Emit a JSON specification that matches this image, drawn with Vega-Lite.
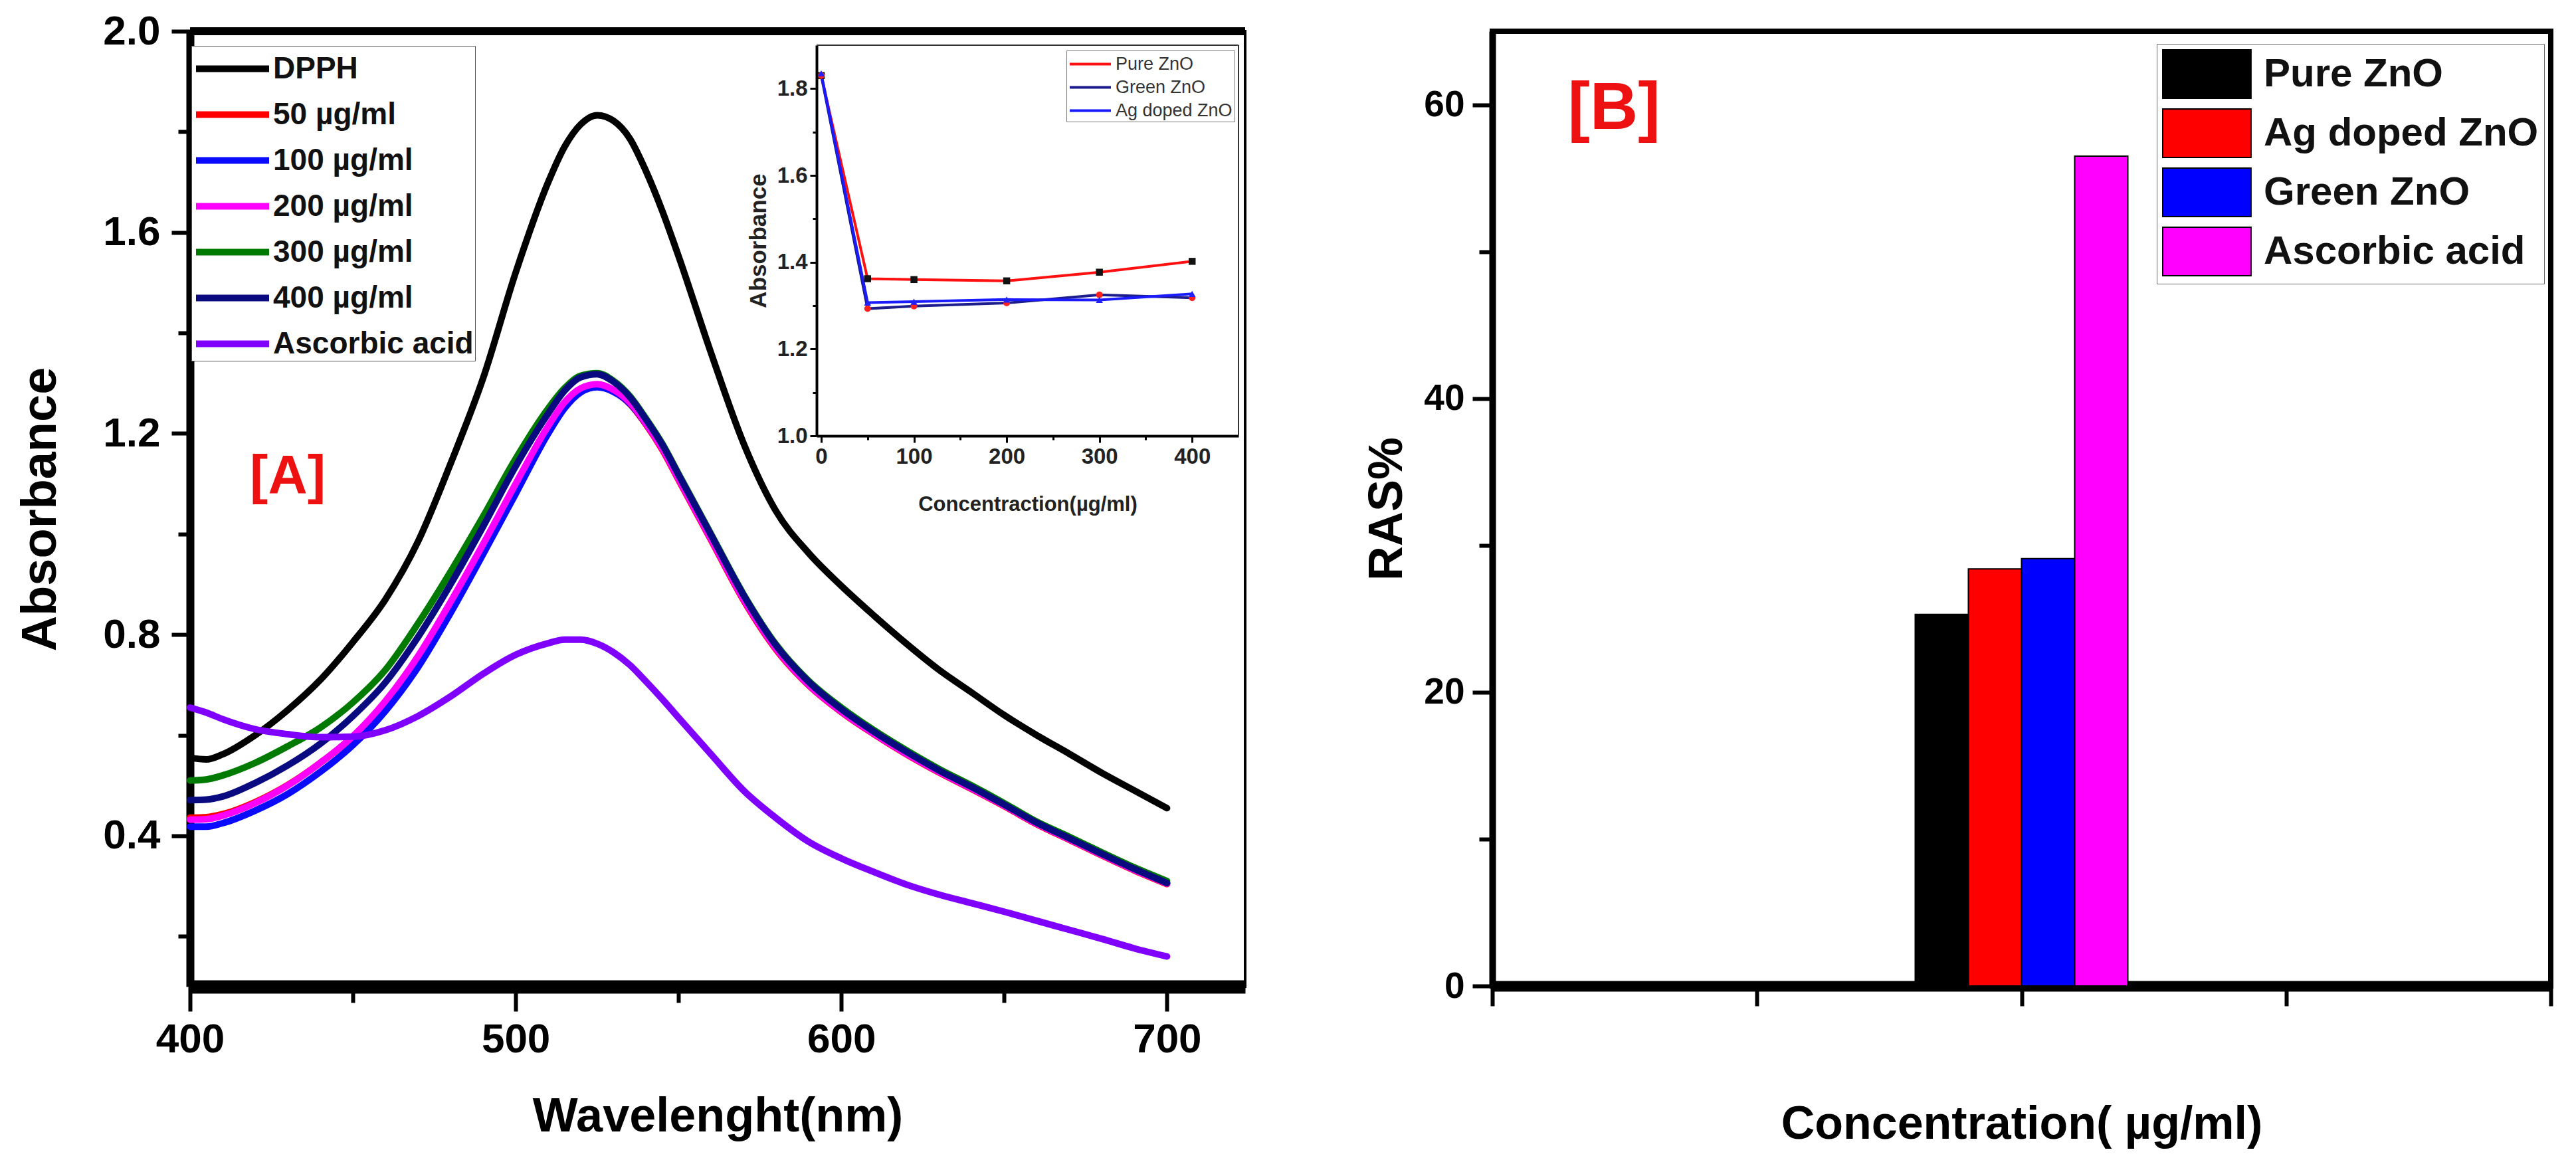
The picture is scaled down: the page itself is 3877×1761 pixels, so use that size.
{
  "$schema": "https://vega.github.io/schema/vega-lite/v6.json",
  "background": "white",
  "padding": {"left": 22, "top": 14, "right": 10, "bottom": 10},
  "spacing": 165,
  "config": {
    "font": "Liberation Sans",
    "axis": {
      "labelFont": "Liberation Sans", "labelFontWeight": "bold", "labelColor": "black",
      "titleFont": "Liberation Sans", "titleFontWeight": "bold", "titleColor": "black",
      "domainColor": "black", "tickColor": "black", "grid": false,
      "labelOverlap": false, "labelFlush": false, "labelBound": false
    },
    "legend": {"labelFont": "Liberation Sans", "labelLimit": 0, "title": null}
  },
  "datasets": {
    "spectra": [
      {"series": "DPPH", "wavelength": 400, "absorbance": 0.555}, {"series": "DPPH", "wavelength": 405, "absorbance": 0.552}, {"series": "DPPH", "wavelength": 410, "absorbance": 0.562}, {"series": "DPPH", "wavelength": 420, "absorbance": 0.600}, {"series": "DPPH", "wavelength": 430, "absorbance": 0.650}, {"series": "DPPH", "wavelength": 440, "absorbance": 0.710}, {"series": "DPPH", "wavelength": 450, "absorbance": 0.785}, {"series": "DPPH", "wavelength": 460, "absorbance": 0.870}, {"series": "DPPH", "wavelength": 470, "absorbance": 0.985}, {"series": "DPPH", "wavelength": 480, "absorbance": 1.140}, {"series": "DPPH", "wavelength": 490, "absorbance": 1.310}, {"series": "DPPH", "wavelength": 500, "absorbance": 1.520}, {"series": "DPPH", "wavelength": 510, "absorbance": 1.700}, {"series": "DPPH", "wavelength": 515, "absorbance": 1.770}, {"series": "DPPH", "wavelength": 520, "absorbance": 1.815}, {"series": "DPPH", "wavelength": 525, "absorbance": 1.833}, {"series": "DPPH", "wavelength": 530, "absorbance": 1.822}, {"series": "DPPH", "wavelength": 535, "absorbance": 1.787}, {"series": "DPPH", "wavelength": 540, "absorbance": 1.722}, {"series": "DPPH", "wavelength": 545, "absorbance": 1.643}, {"series": "DPPH", "wavelength": 550, "absorbance": 1.553}, {"series": "DPPH", "wavelength": 560, "absorbance": 1.360}, {"series": "DPPH", "wavelength": 570, "absorbance": 1.180}, {"series": "DPPH", "wavelength": 580, "absorbance": 1.045}, {"series": "DPPH", "wavelength": 590, "absorbance": 0.962}, {"series": "DPPH", "wavelength": 600, "absorbance": 0.897}, {"series": "DPPH", "wavelength": 610, "absorbance": 0.838}, {"series": "DPPH", "wavelength": 620, "absorbance": 0.782}, {"series": "DPPH", "wavelength": 630, "absorbance": 0.730}, {"series": "DPPH", "wavelength": 640, "absorbance": 0.685}, {"series": "DPPH", "wavelength": 650, "absorbance": 0.640}, {"series": "DPPH", "wavelength": 660, "absorbance": 0.600}, {"series": "DPPH", "wavelength": 670, "absorbance": 0.563}, {"series": "DPPH", "wavelength": 680, "absorbance": 0.525}, {"series": "DPPH", "wavelength": 690, "absorbance": 0.490}, {"series": "DPPH", "wavelength": 700, "absorbance": 0.455},
      {"series": "50 µg/ml", "wavelength": 400, "absorbance": 0.436}, {"series": "50 µg/ml", "wavelength": 405, "absorbance": 0.437}, {"series": "50 µg/ml", "wavelength": 410, "absorbance": 0.443}, {"series": "50 µg/ml", "wavelength": 420, "absorbance": 0.467}, {"series": "50 µg/ml", "wavelength": 430, "absorbance": 0.501}, {"series": "50 µg/ml", "wavelength": 440, "absorbance": 0.545}, {"series": "50 µg/ml", "wavelength": 450, "absorbance": 0.597}, {"series": "50 µg/ml", "wavelength": 460, "absorbance": 0.666}, {"series": "50 µg/ml", "wavelength": 470, "absorbance": 0.754}, {"series": "50 µg/ml", "wavelength": 480, "absorbance": 0.861}, {"series": "50 µg/ml", "wavelength": 490, "absorbance": 0.976}, {"series": "50 µg/ml", "wavelength": 500, "absorbance": 1.096}, {"series": "50 µg/ml", "wavelength": 510, "absorbance": 1.211}, {"series": "50 µg/ml", "wavelength": 515, "absorbance": 1.258}, {"series": "50 µg/ml", "wavelength": 520, "absorbance": 1.286}, {"series": "50 µg/ml", "wavelength": 525, "absorbance": 1.294}, {"series": "50 µg/ml", "wavelength": 530, "absorbance": 1.284}, {"series": "50 µg/ml", "wavelength": 535, "absorbance": 1.259}, {"series": "50 µg/ml", "wavelength": 540, "absorbance": 1.218}, {"series": "50 µg/ml", "wavelength": 545, "absorbance": 1.168}, {"series": "50 µg/ml", "wavelength": 550, "absorbance": 1.108}, {"series": "50 µg/ml", "wavelength": 560, "absorbance": 0.988}, {"series": "50 µg/ml", "wavelength": 570, "absorbance": 0.868}, {"series": "50 µg/ml", "wavelength": 580, "absorbance": 0.770}, {"series": "50 µg/ml", "wavelength": 590, "absorbance": 0.699}, {"series": "50 µg/ml", "wavelength": 600, "absorbance": 0.646}, {"series": "50 µg/ml", "wavelength": 610, "absorbance": 0.602}, {"series": "50 µg/ml", "wavelength": 620, "absorbance": 0.562}, {"series": "50 µg/ml", "wavelength": 630, "absorbance": 0.526}, {"series": "50 µg/ml", "wavelength": 640, "absorbance": 0.493}, {"series": "50 µg/ml", "wavelength": 650, "absorbance": 0.459}, {"series": "50 µg/ml", "wavelength": 660, "absorbance": 0.423}, {"series": "50 µg/ml", "wavelength": 670, "absorbance": 0.392}, {"series": "50 µg/ml", "wavelength": 680, "absorbance": 0.361}, {"series": "50 µg/ml", "wavelength": 690, "absorbance": 0.331}, {"series": "50 µg/ml", "wavelength": 700, "absorbance": 0.304},
      {"series": "100 µg/ml", "wavelength": 400, "absorbance": 0.418}, {"series": "100 µg/ml", "wavelength": 405, "absorbance": 0.418}, {"series": "100 µg/ml", "wavelength": 410, "absorbance": 0.425}, {"series": "100 µg/ml", "wavelength": 420, "absorbance": 0.450}, {"series": "100 µg/ml", "wavelength": 430, "absorbance": 0.483}, {"series": "100 µg/ml", "wavelength": 440, "absorbance": 0.527}, {"series": "100 µg/ml", "wavelength": 450, "absorbance": 0.580}, {"series": "100 µg/ml", "wavelength": 460, "absorbance": 0.648}, {"series": "100 µg/ml", "wavelength": 470, "absorbance": 0.735}, {"series": "100 µg/ml", "wavelength": 480, "absorbance": 0.843}, {"series": "100 µg/ml", "wavelength": 490, "absorbance": 0.960}, {"series": "100 µg/ml", "wavelength": 500, "absorbance": 1.080}, {"series": "100 µg/ml", "wavelength": 510, "absorbance": 1.200}, {"series": "100 µg/ml", "wavelength": 515, "absorbance": 1.250}, {"series": "100 µg/ml", "wavelength": 520, "absorbance": 1.282}, {"series": "100 µg/ml", "wavelength": 525, "absorbance": 1.292}, {"series": "100 µg/ml", "wavelength": 530, "absorbance": 1.283}, {"series": "100 µg/ml", "wavelength": 535, "absorbance": 1.260}, {"series": "100 µg/ml", "wavelength": 540, "absorbance": 1.220}, {"series": "100 µg/ml", "wavelength": 545, "absorbance": 1.172}, {"series": "100 µg/ml", "wavelength": 550, "absorbance": 1.112}, {"series": "100 µg/ml", "wavelength": 560, "absorbance": 0.992}, {"series": "100 µg/ml", "wavelength": 570, "absorbance": 0.872}, {"series": "100 µg/ml", "wavelength": 580, "absorbance": 0.774}, {"series": "100 µg/ml", "wavelength": 590, "absorbance": 0.702}, {"series": "100 µg/ml", "wavelength": 600, "absorbance": 0.649}, {"series": "100 µg/ml", "wavelength": 610, "absorbance": 0.604}, {"series": "100 µg/ml", "wavelength": 620, "absorbance": 0.564}, {"series": "100 µg/ml", "wavelength": 630, "absorbance": 0.528}, {"series": "100 µg/ml", "wavelength": 640, "absorbance": 0.495}, {"series": "100 µg/ml", "wavelength": 650, "absorbance": 0.461}, {"series": "100 µg/ml", "wavelength": 660, "absorbance": 0.425}, {"series": "100 µg/ml", "wavelength": 670, "absorbance": 0.394}, {"series": "100 µg/ml", "wavelength": 680, "absorbance": 0.363}, {"series": "100 µg/ml", "wavelength": 690, "absorbance": 0.333}, {"series": "100 µg/ml", "wavelength": 700, "absorbance": 0.306},
      {"series": "200 µg/ml", "wavelength": 400, "absorbance": 0.432}, {"series": "200 µg/ml", "wavelength": 405, "absorbance": 0.433}, {"series": "200 µg/ml", "wavelength": 410, "absorbance": 0.440}, {"series": "200 µg/ml", "wavelength": 420, "absorbance": 0.465}, {"series": "200 µg/ml", "wavelength": 430, "absorbance": 0.500}, {"series": "200 µg/ml", "wavelength": 440, "absorbance": 0.545}, {"series": "200 µg/ml", "wavelength": 450, "absorbance": 0.598}, {"series": "200 µg/ml", "wavelength": 460, "absorbance": 0.668}, {"series": "200 µg/ml", "wavelength": 470, "absorbance": 0.757}, {"series": "200 µg/ml", "wavelength": 480, "absorbance": 0.865}, {"series": "200 µg/ml", "wavelength": 490, "absorbance": 0.980}, {"series": "200 µg/ml", "wavelength": 500, "absorbance": 1.100}, {"series": "200 µg/ml", "wavelength": 510, "absorbance": 1.215}, {"series": "200 µg/ml", "wavelength": 515, "absorbance": 1.262}, {"series": "200 µg/ml", "wavelength": 520, "absorbance": 1.290}, {"series": "200 µg/ml", "wavelength": 525, "absorbance": 1.298}, {"series": "200 µg/ml", "wavelength": 530, "absorbance": 1.287}, {"series": "200 µg/ml", "wavelength": 535, "absorbance": 1.262}, {"series": "200 µg/ml", "wavelength": 540, "absorbance": 1.220}, {"series": "200 µg/ml", "wavelength": 545, "absorbance": 1.170}, {"series": "200 µg/ml", "wavelength": 550, "absorbance": 1.110}, {"series": "200 µg/ml", "wavelength": 560, "absorbance": 0.990}, {"series": "200 µg/ml", "wavelength": 570, "absorbance": 0.870}, {"series": "200 µg/ml", "wavelength": 580, "absorbance": 0.772}, {"series": "200 µg/ml", "wavelength": 590, "absorbance": 0.700}, {"series": "200 µg/ml", "wavelength": 600, "absorbance": 0.647}, {"series": "200 µg/ml", "wavelength": 610, "absorbance": 0.603}, {"series": "200 µg/ml", "wavelength": 620, "absorbance": 0.563}, {"series": "200 µg/ml", "wavelength": 630, "absorbance": 0.527}, {"series": "200 µg/ml", "wavelength": 640, "absorbance": 0.494}, {"series": "200 µg/ml", "wavelength": 650, "absorbance": 0.460}, {"series": "200 µg/ml", "wavelength": 660, "absorbance": 0.424}, {"series": "200 µg/ml", "wavelength": 670, "absorbance": 0.393}, {"series": "200 µg/ml", "wavelength": 680, "absorbance": 0.362}, {"series": "200 µg/ml", "wavelength": 690, "absorbance": 0.332}, {"series": "200 µg/ml", "wavelength": 700, "absorbance": 0.305},
      {"series": "300 µg/ml", "wavelength": 400, "absorbance": 0.510}, {"series": "300 µg/ml", "wavelength": 405, "absorbance": 0.512}, {"series": "300 µg/ml", "wavelength": 410, "absorbance": 0.520}, {"series": "300 µg/ml", "wavelength": 420, "absorbance": 0.545}, {"series": "300 µg/ml", "wavelength": 430, "absorbance": 0.578}, {"series": "300 µg/ml", "wavelength": 440, "absorbance": 0.615}, {"series": "300 µg/ml", "wavelength": 450, "absorbance": 0.665}, {"series": "300 µg/ml", "wavelength": 460, "absorbance": 0.730}, {"series": "300 µg/ml", "wavelength": 470, "absorbance": 0.822}, {"series": "300 µg/ml", "wavelength": 480, "absorbance": 0.925}, {"series": "300 µg/ml", "wavelength": 490, "absorbance": 1.035}, {"series": "300 µg/ml", "wavelength": 500, "absorbance": 1.150}, {"series": "300 µg/ml", "wavelength": 510, "absorbance": 1.250}, {"series": "300 µg/ml", "wavelength": 515, "absorbance": 1.290}, {"series": "300 µg/ml", "wavelength": 520, "absorbance": 1.315}, {"series": "300 µg/ml", "wavelength": 525, "absorbance": 1.320}, {"series": "300 µg/ml", "wavelength": 530, "absorbance": 1.305}, {"series": "300 µg/ml", "wavelength": 535, "absorbance": 1.275}, {"series": "300 µg/ml", "wavelength": 540, "absorbance": 1.230}, {"series": "300 µg/ml", "wavelength": 545, "absorbance": 1.180}, {"series": "300 µg/ml", "wavelength": 550, "absorbance": 1.120}, {"series": "300 µg/ml", "wavelength": 560, "absorbance": 1.000}, {"series": "300 µg/ml", "wavelength": 570, "absorbance": 0.880}, {"series": "300 µg/ml", "wavelength": 580, "absorbance": 0.780}, {"series": "300 µg/ml", "wavelength": 590, "absorbance": 0.708}, {"series": "300 µg/ml", "wavelength": 600, "absorbance": 0.655}, {"series": "300 µg/ml", "wavelength": 610, "absorbance": 0.610}, {"series": "300 µg/ml", "wavelength": 620, "absorbance": 0.570}, {"series": "300 µg/ml", "wavelength": 630, "absorbance": 0.533}, {"series": "300 µg/ml", "wavelength": 640, "absorbance": 0.500}, {"series": "300 µg/ml", "wavelength": 650, "absorbance": 0.465}, {"series": "300 µg/ml", "wavelength": 660, "absorbance": 0.428}, {"series": "300 µg/ml", "wavelength": 670, "absorbance": 0.398}, {"series": "300 µg/ml", "wavelength": 680, "absorbance": 0.367}, {"series": "300 µg/ml", "wavelength": 690, "absorbance": 0.337}, {"series": "300 µg/ml", "wavelength": 700, "absorbance": 0.310},
      {"series": "400 µg/ml", "wavelength": 400, "absorbance": 0.471}, {"series": "400 µg/ml", "wavelength": 405, "absorbance": 0.472}, {"series": "400 µg/ml", "wavelength": 410, "absorbance": 0.478}, {"series": "400 µg/ml", "wavelength": 420, "absorbance": 0.505}, {"series": "400 µg/ml", "wavelength": 430, "absorbance": 0.540}, {"series": "400 µg/ml", "wavelength": 440, "absorbance": 0.583}, {"series": "400 µg/ml", "wavelength": 450, "absorbance": 0.638}, {"series": "400 µg/ml", "wavelength": 460, "absorbance": 0.705}, {"series": "400 µg/ml", "wavelength": 470, "absorbance": 0.795}, {"series": "400 µg/ml", "wavelength": 480, "absorbance": 0.900}, {"series": "400 µg/ml", "wavelength": 490, "absorbance": 1.015}, {"series": "400 µg/ml", "wavelength": 500, "absorbance": 1.135}, {"series": "400 µg/ml", "wavelength": 510, "absorbance": 1.240}, {"series": "400 µg/ml", "wavelength": 515, "absorbance": 1.285}, {"series": "400 µg/ml", "wavelength": 520, "absorbance": 1.312}, {"series": "400 µg/ml", "wavelength": 525, "absorbance": 1.318}, {"series": "400 µg/ml", "wavelength": 530, "absorbance": 1.303}, {"series": "400 µg/ml", "wavelength": 535, "absorbance": 1.273}, {"series": "400 µg/ml", "wavelength": 540, "absorbance": 1.228}, {"series": "400 µg/ml", "wavelength": 545, "absorbance": 1.178}, {"series": "400 µg/ml", "wavelength": 550, "absorbance": 1.118}, {"series": "400 µg/ml", "wavelength": 560, "absorbance": 0.998}, {"series": "400 µg/ml", "wavelength": 570, "absorbance": 0.878}, {"series": "400 µg/ml", "wavelength": 580, "absorbance": 0.778}, {"series": "400 µg/ml", "wavelength": 590, "absorbance": 0.706}, {"series": "400 µg/ml", "wavelength": 600, "absorbance": 0.652}, {"series": "400 µg/ml", "wavelength": 610, "absorbance": 0.607}, {"series": "400 µg/ml", "wavelength": 620, "absorbance": 0.567}, {"series": "400 µg/ml", "wavelength": 630, "absorbance": 0.530}, {"series": "400 µg/ml", "wavelength": 640, "absorbance": 0.497}, {"series": "400 µg/ml", "wavelength": 650, "absorbance": 0.462}, {"series": "400 µg/ml", "wavelength": 660, "absorbance": 0.426}, {"series": "400 µg/ml", "wavelength": 670, "absorbance": 0.395}, {"series": "400 µg/ml", "wavelength": 680, "absorbance": 0.364}, {"series": "400 µg/ml", "wavelength": 690, "absorbance": 0.334}, {"series": "400 µg/ml", "wavelength": 700, "absorbance": 0.306},
      {"series": "Ascorbic acid", "wavelength": 400, "absorbance": 0.655}, {"series": "Ascorbic acid", "wavelength": 405, "absorbance": 0.645}, {"series": "Ascorbic acid", "wavelength": 410, "absorbance": 0.632}, {"series": "Ascorbic acid", "wavelength": 420, "absorbance": 0.612}, {"series": "Ascorbic acid", "wavelength": 430, "absorbance": 0.602}, {"series": "Ascorbic acid", "wavelength": 440, "absorbance": 0.596}, {"series": "Ascorbic acid", "wavelength": 450, "absorbance": 0.597}, {"series": "Ascorbic acid", "wavelength": 460, "absorbance": 0.610}, {"series": "Ascorbic acid", "wavelength": 470, "absorbance": 0.638}, {"series": "Ascorbic acid", "wavelength": 480, "absorbance": 0.677}, {"series": "Ascorbic acid", "wavelength": 490, "absorbance": 0.722}, {"series": "Ascorbic acid", "wavelength": 500, "absorbance": 0.760}, {"series": "Ascorbic acid", "wavelength": 510, "absorbance": 0.783}, {"series": "Ascorbic acid", "wavelength": 515, "absorbance": 0.790}, {"series": "Ascorbic acid", "wavelength": 520, "absorbance": 0.790}, {"series": "Ascorbic acid", "wavelength": 525, "absorbance": 0.782}, {"series": "Ascorbic acid", "wavelength": 530, "absorbance": 0.765}, {"series": "Ascorbic acid", "wavelength": 535, "absorbance": 0.740}, {"series": "Ascorbic acid", "wavelength": 540, "absorbance": 0.707}, {"series": "Ascorbic acid", "wavelength": 545, "absorbance": 0.672}, {"series": "Ascorbic acid", "wavelength": 550, "absorbance": 0.635}, {"series": "Ascorbic acid", "wavelength": 560, "absorbance": 0.562}, {"series": "Ascorbic acid", "wavelength": 570, "absorbance": 0.490}, {"series": "Ascorbic acid", "wavelength": 580, "absorbance": 0.435}, {"series": "Ascorbic acid", "wavelength": 590, "absorbance": 0.388}, {"series": "Ascorbic acid", "wavelength": 600, "absorbance": 0.355}, {"series": "Ascorbic acid", "wavelength": 610, "absorbance": 0.328}, {"series": "Ascorbic acid", "wavelength": 620, "absorbance": 0.303}, {"series": "Ascorbic acid", "wavelength": 630, "absorbance": 0.283}, {"series": "Ascorbic acid", "wavelength": 640, "absorbance": 0.266}, {"series": "Ascorbic acid", "wavelength": 650, "absorbance": 0.249}, {"series": "Ascorbic acid", "wavelength": 660, "absorbance": 0.231}, {"series": "Ascorbic acid", "wavelength": 670, "absorbance": 0.213}, {"series": "Ascorbic acid", "wavelength": 680, "absorbance": 0.195}, {"series": "Ascorbic acid", "wavelength": 690, "absorbance": 0.176}, {"series": "Ascorbic acid", "wavelength": 700, "absorbance": 0.160}
    ],
    "inset": [
      {"sample": "Pure ZnO", "conc": 0, "absorbance": 1.830}, {"sample": "Pure ZnO", "conc": 50, "absorbance": 1.362}, {"sample": "Pure ZnO", "conc": 100, "absorbance": 1.360}, {"sample": "Pure ZnO", "conc": 200, "absorbance": 1.357}, {"sample": "Pure ZnO", "conc": 300, "absorbance": 1.377}, {"sample": "Pure ZnO", "conc": 400, "absorbance": 1.402},
      {"sample": "Green ZnO", "conc": 0, "absorbance": 1.830}, {"sample": "Green ZnO", "conc": 50, "absorbance": 1.293}, {"sample": "Green ZnO", "conc": 100, "absorbance": 1.299}, {"sample": "Green ZnO", "conc": 200, "absorbance": 1.306}, {"sample": "Green ZnO", "conc": 300, "absorbance": 1.325}, {"sample": "Green ZnO", "conc": 400, "absorbance": 1.318},
      {"sample": "Ag doped ZnO", "conc": 0, "absorbance": 1.835}, {"sample": "Ag doped ZnO", "conc": 50, "absorbance": 1.307}, {"sample": "Ag doped ZnO", "conc": 100, "absorbance": 1.309}, {"sample": "Ag doped ZnO", "conc": 200, "absorbance": 1.314}, {"sample": "Ag doped ZnO", "conc": 300, "absorbance": 1.313}, {"sample": "Ag doped ZnO", "conc": 400, "absorbance": 1.327}
    ],
    "ras": [
      {"sample": "Pure ZnO", "ras": 25.3},
      {"sample": "Ag doped ZnO", "ras": 28.4},
      {"sample": "Green ZnO", "ras": 29.1},
      {"sample": "Ascorbic acid", "ras": 56.5}
    ]
  },
  "hconcat": [
    {
      "width": 1588,
      "height": 1438,
      "view": {"stroke": "black", "strokeWidth": 4},
      "layer": [
        {
          "layer": [
            {
              "data": {"name": "spectra"},
              "mark": {"type": "line", "strokeWidth": 10, "interpolate": "monotone", "strokeCap": "round"},
              "encoding": {
                "x": {
                  "field": "wavelength", "type": "quantitative",
                  "scale": {"domain": [400, 724], "nice": false, "zero": false},
                  "axis": {
                    "orient": "bottom",
                    "values": [400, 450, 500, 550, 600, 650, 700],
                    "labelExpr": "datum.value % 100 === 0 ? datum.label : ''",
                    "tickSize": {"condition": {"test": "datum.value % 100 === 0", "value": 37}, "value": 24},
                    "tickWidth": 6, "domainWidth": 20,
                    "labelFontSize": 62, "labelPadding": 12,
                    "title": "Wavelenght(nm)", "titleFontSize": 72, "titlePadding": 50
                  }
                },
                "y": {
                  "field": "absorbance", "type": "quantitative",
                  "scale": {"domain": [0.1, 2.0], "nice": false, "zero": false},
                  "axis": {
                    "orient": "left",
                    "values": [0.2, 0.4, 0.6, 0.8, 1.0, 1.2, 1.4, 1.6, 1.8, 2.0],
                    "labelExpr": "round(datum.value * 10) % 4 === 0 ? format(datum.value, '.1f') : ''",
                    "tickSize": {"condition": {"test": "round(datum.value * 10) % 4 === 0", "value": 28}, "value": 18},
                    "tickWidth": 6, "domainWidth": 12,
                    "labelFontSize": 62, "labelPadding": 17,
                    "title": "Absorbance", "titleFontSize": 74, "titlePadding": 55
                  }
                },
                "color": {
                  "field": "series", "type": "nominal",
                  "scale": {
                    "domain": ["DPPH", "50 µg/ml", "100 µg/ml", "200 µg/ml", "300 µg/ml", "400 µg/ml", "Ascorbic acid"],
                    "range": ["#000000", "#ff0000", "#0a0aff", "#ff00ff", "#007a00", "#0a0a80", "#8000ff"]
                  },
                  "legend": {
                    "orient": "none", "legendX": 2, "legendY": 22,
                    "symbolType": "M-1,0H3", "symbolSize": 3025, "symbolStrokeWidth": 10,
                    "labelFontSize": 46, "labelFontWeight": "bold", "labelColor": "#111111",
                    "labelOffset": 56, "rowPadding": 13, "padding": 2,
                    "strokeColor": "#555555", "fillColor": "white"
                  }
                }
              }
            },
            {
              "data": {"values": [{}]},
              "mark": {"type": "rule", "strokeWidth": 12, "color": "black"},
              "encoding": {"y": {"datum": 2.0, "type": "quantitative"}}
            },
            {
              "data": {"values": [{}]},
              "mark": {"type": "text", "text": "[A]", "color": "#ee1111", "fontSize": 82, "fontWeight": "bold", "align": "center", "baseline": "middle"},
              "encoding": {"x": {"datum": 430, "type": "quantitative"}, "y": {"datum": 1.115, "type": "quantitative"}}
            }
          ]
        },
        {
          "layer": [
            {
              "data": {"name": "inset"},
              "mark": {"type": "line", "strokeWidth": 4},
              "encoding": {
                "x": {
                  "field": "conc", "type": "quantitative",
                  "scale": {"domain": [-5, 450], "nice": false, "zero": false, "range": [943, 1578]},
                  "axis": {
                    "orient": "bottom", "offset": -829,
                    "values": [0, 50, 100, 150, 200, 250, 300, 350, 400],
                    "labelExpr": "datum.value % 100 === 0 ? datum.label : ''",
                    "tickSize": {"condition": {"test": "datum.value % 100 === 0", "value": 10}, "value": 6},
                    "tickWidth": 3, "domainWidth": 4,
                    "labelFontSize": 33, "labelPadding": 5, "labelColor": "#222222",
                    "title": "Concentraction(µg/ml)", "titleFontSize": 31, "titlePadding": 40, "titleColor": "#222222"
                  }
                },
                "y": {
                  "field": "absorbance", "type": "quantitative",
                  "scale": {"domain": [1.0, 1.9], "nice": false, "zero": false, "range": [609, 21]},
                  "axis": {
                    "orient": "left", "offset": -943,
                    "values": [1.0, 1.1, 1.2, 1.3, 1.4, 1.5, 1.6, 1.7, 1.8],
                    "labelExpr": "round(datum.value * 10) % 2 === 0 ? format(datum.value, '.1f') : ''",
                    "tickSize": {"condition": {"test": "round(datum.value * 10) % 2 === 0", "value": 10}, "value": 6},
                    "tickWidth": 3, "domainWidth": 4,
                    "labelFontSize": 33, "labelPadding": 4, "labelColor": "#222222",
                    "title": "Absorbance", "titleFontSize": 35, "titlePadding": 10, "titleColor": "#222222"
                  }
                },
                "stroke": {
                  "field": "sample", "type": "nominal",
                  "scale": {"domain": ["Pure ZnO", "Green ZnO", "Ag doped ZnO"], "range": ["#ff1010", "#1c1c8c", "#1a1aff"]},
                  "legend": {
                    "orient": "none", "legendX": 1319, "legendY": 29,
                    "symbolType": "M-1,0H3", "symbolSize": 961, "symbolStrokeWidth": 4,
                    "labelFontSize": 27, "labelFontWeight": "normal", "labelColor": "#333333",
                    "labelOffset": 36, "rowPadding": 4, "padding": 3,
                    "strokeColor": "#777777", "fillColor": "white"
                  }
                }
              }
            },
            {
              "data": {"name": "inset"},
              "transform": [{"filter": "datum.sample === 'Pure ZnO'"}],
              "mark": {"type": "point", "shape": "square", "filled": true, "size": 110, "opacity": 1, "color": "#111111"},
              "encoding": {"x": {"field": "conc", "type": "quantitative"}, "y": {"field": "absorbance", "type": "quantitative"}}
            },
            {
              "data": {"name": "inset"},
              "transform": [{"filter": "datum.sample === 'Green ZnO'"}],
              "mark": {"type": "point", "shape": "circle", "filled": true, "size": 100, "opacity": 1, "color": "#ff2020"},
              "encoding": {"x": {"field": "conc", "type": "quantitative"}, "y": {"field": "absorbance", "type": "quantitative"}}
            },
            {
              "data": {"name": "inset"},
              "transform": [{"filter": "datum.sample === 'Ag doped ZnO'"}],
              "mark": {"type": "point", "shape": "triangle-up", "filled": true, "size": 110, "opacity": 1, "color": "#2020ff"},
              "encoding": {"x": {"field": "conc", "type": "quantitative"}, "y": {"field": "absorbance", "type": "quantitative"}}
            },
            {
              "data": {"values": [{}]},
              "mark": {"type": "rule", "strokeWidth": 2, "color": "#333333"},
              "encoding": {
                "x": {"datum": -5, "type": "quantitative"}, "x2": {"datum": 450},
                "y": {"datum": 1.9, "type": "quantitative"}
              }
            },
            {
              "data": {"values": [{}]},
              "mark": {"type": "rule", "strokeWidth": 2, "color": "#333333"},
              "encoding": {
                "x": {"datum": 450, "type": "quantitative"},
                "y": {"datum": 1.0, "type": "quantitative"}, "y2": {"datum": 1.9}
              }
            }
          ]
        }
      ],
      "resolve": {
        "scale": {"x": "independent", "y": "independent"},
        "axis": {"x": "independent", "y": "independent"}
      }
    },
    {
      "width": 1593,
      "height": 1437,
      "view": {"stroke": "black", "strokeWidth": 8},
      "layer": [
        {
          "data": {"name": "ras"},
          "mark": {"type": "bar", "stroke": "black", "strokeWidth": 2},
          "encoding": {
            "x": {
              "field": "sample", "type": "nominal",
              "sort": ["Pure ZnO", "Ag doped ZnO", "Green ZnO", "Ascorbic acid"],
              "scale": {"paddingInner": 0, "paddingOuter": 0, "range": [636.5, 956.5]},
              "axis": null
            },
            "y": {
              "field": "ras", "type": "quantitative",
              "scale": {"domain": [0, 65], "nice": false},
              "axis": {
                "orient": "left",
                "values": [0, 10, 20, 30, 40, 50, 60],
                "labelExpr": "datum.value % 20 === 0 ? datum.label : ''",
                "tickSize": {"condition": {"test": "datum.value % 20 === 0", "value": 30}, "value": 20},
                "tickWidth": 6, "domainWidth": 10,
                "labelFontSize": 55, "labelPadding": 12,
                "title": "RAS%", "titleFontSize": 72, "titlePadding": 18
              }
            },
            "fill": {
              "field": "sample", "type": "nominal",
              "scale": {
                "domain": ["Pure ZnO", "Ag doped ZnO", "Green ZnO", "Ascorbic acid"],
                "range": ["#000000", "#ff0000", "#0000ff", "#ff00ff"]
              },
              "legend": {
                "orient": "none", "legendX": 1000, "legendY": 19,
                "symbolType": "M-1,-1H2.64V1H-1Z", "symbolSize": 5329,
                "symbolStrokeColor": "black", "symbolStrokeWidth": 2, "symbolOpacity": 1,
                "labelFontSize": 60, "labelFontWeight": "bold", "labelColor": "#111111",
                "labelOffset": 78, "rowPadding": 8, "padding": 8,
                "strokeColor": "#666666", "fillColor": "white"
              }
            }
          }
        },
        {
          "data": {"values": [{}]},
          "mark": {"type": "text", "text": "[B]", "color": "#ee1111", "fontSize": 100, "fontWeight": "bold", "align": "center", "baseline": "middle"},
          "encoding": {
            "x": {
              "datum": 0.46, "type": "quantitative",
              "scale": {"domain": [0, 4], "nice": false, "zero": false},
              "axis": {
                "orient": "bottom", "values": [0, 1, 2, 3, 4], "labels": false,
                "tickSize": 30, "tickWidth": 6, "domainWidth": 16,
                "title": "Concentration( µg/ml)", "titleFontSize": 70, "titlePadding": 141
              }
            },
            "y": {"datum": 59.7, "type": "quantitative"}
          }
        }
      ],
      "resolve": {"scale": {"x": "independent"}, "axis": {"x": "independent"}}
    }
  ],
  "resolve": {"scale": {"color": "independent", "fill": "independent", "stroke": "independent"}}
}
